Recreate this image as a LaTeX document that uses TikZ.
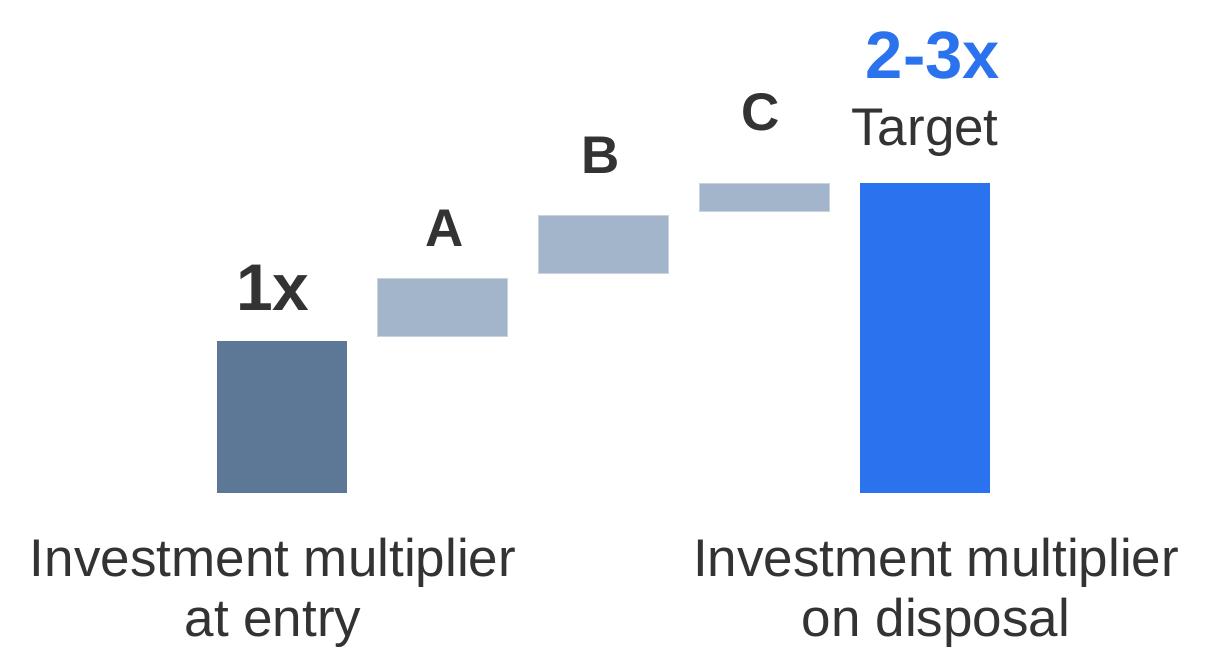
\documentclass[tikz,border=0pt]{standalone}
\usepackage{fontspec}
\setmainfont{Liberation Sans}
\definecolor{entrybar}{HTML}{5C7896}
\definecolor{stepbar}{HTML}{A3B5CB}
\definecolor{targetblue}{HTML}{2A72EE}
\definecolor{txtgray}{HTML}{333333}
\tikzset{
	bar/.style={inner sep=0pt, outer sep=0pt, minimum width=130pt},
	lbl/.style={anchor=base, inner sep=0pt, text=txtgray},
}

\begin{document}
\begin{tikzpicture}[x=1pt, y=-1pt]
	\useasboundingbox (0,0) rectangle (1221,667);
	% bars
	\node [bar, fill=entrybar, minimum height=152pt] (entry) at (282,417) {};
	\node [bar, fill=stepbar, draw=stepbar!60!white, line width=0.8pt, minimum height=58pt] (stepA) at (442,307) {};
	\node [bar, fill=stepbar, draw=stepbar!60!white, line width=0.8pt, minimum height=58pt] (stepB) at (603,244) {};
	\node [bar, fill=stepbar, draw=stepbar!60!white, line width=0.8pt, minimum height=28pt] (stepC) at (764,197) {};
	\node [bar, fill=targetblue, minimum height=310pt] (target) at (925,338) {};
	% labels over the bars
	\node [lbl, font=\fontsize{66}{66}\selectfont\bfseries] (onex) at (273,310) {1x};
	\node [lbl, font=\fontsize{53}{53}\selectfont\bfseries] (labA) at (445,246) {A};
	\node [lbl, font=\fontsize{53}{53}\selectfont\bfseries] (labB) at (601,173) {B};
	\node [lbl, font=\fontsize{53}{53}\selectfont\bfseries] (labC) at (761,130) {C};
	\node [lbl, text=targetblue, font=\fontsize{67}{67}\selectfont\bfseries] (range) at (933,78) {2-3x};
	\node [lbl, font=\fontsize{53}{53}\selectfont] (tgt) at (925,145) {Target};
	% axis texts
	\node [lbl, font=\fontsize{53}{53}\selectfont] (entryA) at (273,576) {Investment multiplier};
	\node [lbl, font=\fontsize{53}{53}\selectfont] (entryB) at (273,636) {at entry};
	\node [lbl, font=\fontsize{53}{53}\selectfont] (dispA) at (936,576) {Investment multiplier};
	\node [lbl, font=\fontsize{53}{53}\selectfont] (dispB) at (936,636) {on disposal};
\end{tikzpicture}
\end{document}
